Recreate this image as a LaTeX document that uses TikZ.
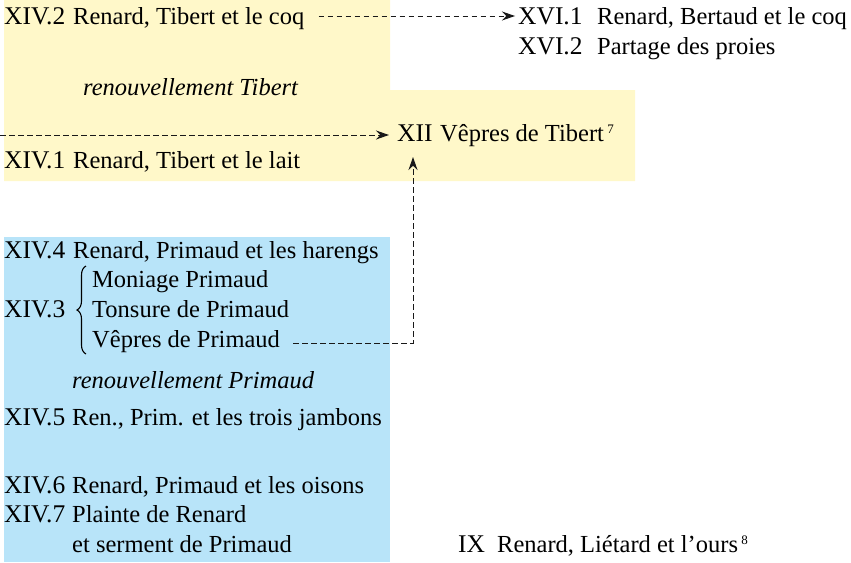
\documentclass[tikz,border=0pt]{standalone}
\usepackage{fontspec}
\setmainfont{Liberation Serif}
\usetikzlibrary{arrows.meta,decorations.pathreplacing}
\definecolor{paleyellow}{HTML}{FFF8C9}
\definecolor{paleblue}{HTML}{B8E4F9}
\newcommand{\lab}[1]{\scalebox{1.04}[1.04]{#1}}
\tikzset{
  txt/.style={anchor=base west,inner sep=0pt,font=\fontsize{24.5}{29}\selectfont},
  itxt/.style={txt,font=\fontsize{24.5}{29}\selectfont\itshape},
  link/.style={draw=black!90,line width=1pt,dash pattern=on 5.5pt off 3.5pt},
  tip/.style={-{Stealth[length=13pt,width=9pt]}},
  sup/.style={anchor=base west,inner sep=0pt,font=\fontsize{13}{15}\selectfont}
}
\begin{document}
\begin{tikzpicture}[x=1pt,y=-1pt]
\useasboundingbox (0,0) rectangle (851,562);
% backgrounds
\fill[paleyellow] (4,0) -- (390,0) -- (390,90) -- (635,90) -- (635,181) -- (4,181) -- cycle;
\fill[paleblue] (4,237) rectangle (390,562);
% yellow block
\node[txt] (l142) at (4,24) {\lab{XIV.2}};
\node[txt] (t142) at (73,24) {Renard, Tibert et le coq};
\node[itxt] (renT) at (83,95) {renouvellement Tibert};
\node[txt] (l141) at (4,168) {\lab{XIV.1}};
\node[txt] (t141) at (73,168) {Renard, Tibert et le lait};
\node[txt] (l12) at (397,141) {\lab{XII}};
\node[txt] (t12) at (440,141) {Vêpres de Tibert};
\node[sup] (s7) at ([xshift=3pt]t12.base east) [yshift=8pt] {7};
% XVI
\node[txt] (l161) at (518,24) {\lab{XVI.1}};
\node[txt] (t161) at (597,24) {Renard, Bertaud et le coq};
\node[txt] (l162) at (518,54) {\lab{XVI.2}};
\node[txt] (t162) at (597,54) {Partage des proies};
% blue block
\node[txt] (l144) at (4,258) {\lab{XIV.4}};
\node[txt] (t144) at (73,258) {Renard, Primaud et les harengs};
\node[txt] (mon) at (92,287) {Moniage Primaud};
\node[txt] (l143) at (4,317) {\lab{XIV.3}};
\node[txt] (ton) at (92,317) {Tonsure de Primaud};
\node[txt] (vep) at (92,347) {Vêpres de Primaud};
\draw[line width=1.1pt,decorate,decoration={brace,amplitude=9pt}] (86,354) -- (86,266);
\node[itxt] (renP) at (72,388) {renouvellement Primaud};
\node[txt] (l145) at (4,425) {\lab{XIV.5}};
\node[txt] (t145) at (72,425) {Ren., Prim. et les trois jambons};
\node[txt] (l146) at (4,493) {\lab{XIV.6}};
\node[txt] (t146) at (72,493) {Renard, Primaud et les oisons};
\node[txt] (l147) at (4,522) {\lab{XIV.7}};
\node[txt] (t147) at (72,522) {Plainte de Renard};
\node[txt] (t147b) at (72,552) {et serment de Primaud};
% IX
\node[txt] (l9) at (458,552) {\lab{IX}};
\node[txt] (t9) at (497,552) {Renard, Liétard et l’ours};
\node[sup] (s8) at ([xshift=3pt]t9.base east) [yshift=8pt] {8};
% connectors
\coordinate (start12) at (0,135);
\coordinate (corner) at (413,343);
\coordinate (up12) at (413,157);
\draw[link,tip] ([xshift=14pt,yshift=8pt]t142.base east) -- ([xshift=-3pt,yshift=8pt]l161.base west);
\draw[link,tip] (start12) -- ([xshift=-8pt]start12 -| l12.west);
\draw[link,tip] ([xshift=13pt,yshift=4pt]vep.base east) -- (corner) -- (up12);
\end{tikzpicture}
\end{document}
